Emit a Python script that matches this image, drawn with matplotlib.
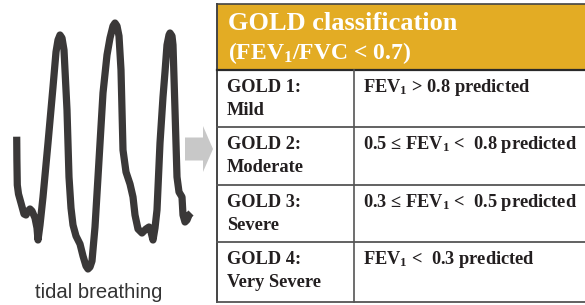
import matplotlib
matplotlib.use("Agg")
import matplotlib.pyplot as plt
import matplotlib.patches as mpatches

plt.rcParams['mathtext.fontset'] = 'custom'
plt.rcParams['mathtext.rm'] = 'Liberation Serif:bold'
plt.rcParams['mathtext.it'] = 'Liberation Serif:bold'
plt.rcParams['mathtext.bf'] = 'Liberation Serif:bold'

# tidal breathing trace (x, y in picture pixels, y grows downwards)
breath_t = [16.7, 16.9, 17.3, 18.5, 21, 24, 26, 28, 30, 32, 35, 37, 38,
            40, 43, 48, 53, 56, 58, 60, 62, 64,
            67, 69, 71, 73, 76, 80, 83, 86, 88, 90, 92,
            95, 98, 103, 107, 110, 113, 115, 117, 119,
            121, 122, 123, 126, 130, 133, 135, 138, 142, 146, 149, 151, 153,
            155, 157, 160, 163, 165, 167, 169, 170, 172, 173,
            175, 177, 179, 182, 183, 185, 187, 189, 191]
breath_y = [136.7, 160, 185, 194, 203, 214, 215, 211, 209, 211, 218, 228, 240,
            225, 197, 143, 87, 52, 40, 35, 38, 50,
            110, 177, 208, 225, 236, 244, 256, 266, 269, 267, 261,
            227, 177, 93, 55, 38, 26, 23, 26, 36,
            70, 110, 150, 172, 184, 197, 215, 229, 233, 229, 227, 232, 240,
            228, 210, 143, 97, 72, 45, 35, 33, 36, 45,
            110, 177, 192, 197, 215, 222, 220, 215, 213]

header_lines = ["GOLD classification", "(FEV$_1$/FVC < 0.7)"]
header_sizes = [19, 17]
stage_names = ["GOLD 1:\nMild", "GOLD 2:\nModerate", "GOLD 3:\nSevere", "GOLD 4:\nVery Severe"]
stage_criteria = ["FEV$_1$ > 0.8 predicted",
                  "0.5 \u2264 FEV$_1$ <  0.8 predicted",
                  "0.3 \u2264 FEV$_1$ <  0.5 predicted",
                  "FEV$_1$ <  0.3 predicted"]

W, H = 585, 305
fig = plt.figure(figsize=(W / 100, H / 100), dpi=100)
ax = fig.add_axes([0, 0, 1, 1])
ax.set_xlim(0, W)
ax.set_ylim(H, 0)
ax.axis('off')

# waveform
ax.plot(breath_t, breath_y, color='#3a3838', lw=5.2,
        solid_joinstyle='round', solid_capstyle='butt')
ax.text(99, 298, "tidal breathing", ha='center', va='baseline',
        fontsize=14.6, color='#333333', family='Liberation Sans')

# arrow
ax.add_patch(mpatches.FancyArrow(185, 149, 28, 0, width=23, head_width=46,
                                 head_length=10, length_includes_head=True,
                                 color='#c8c8c8', lw=0))

# table
tx0, tx1, tcol = 217, 585, 354
head_top, head_bot = 4, 70
row_edges = [70, 127, 185, 242, 302]
gold = '#e3ac24'
ax.add_patch(mpatches.Rectangle((tx0, head_top), tx1 - tx0, head_bot - head_top,
                                facecolor=gold, edgecolor='none'))
ax.plot([tx0, tx1], [head_top, head_top], color='#444444', lw=1.2)
ax.plot([tx0, tx0], [head_top, row_edges[-1]], color='#444444', lw=1.4)
ax.plot([tx0, tx1], [head_bot, head_bot], color='#2a2a2a', lw=1.6)
ax.plot([tcol, tcol], [row_edges[0], row_edges[-1]], color='#555555', lw=1.2)
for yb in row_edges[1:]:
    ax.plot([tx0, tx1], [yb, yb], color='#555555', lw=1.3)

for i, (line, fs) in enumerate(zip(header_lines, header_sizes)):
    ax.text(228, 30 + 29 * i, line, ha='left', va='baseline', fontsize=fs,
            color='white', family='Liberation Serif', fontweight='bold')

for i, (name, crit) in enumerate(zip(stage_names, stage_criteria)):
    top = row_edges[i]
    for j, part in enumerate(name.split("\n")):
        ax.text(227, top + 22 + 23 * j, part, ha='left', va='baseline',
                fontsize=13.2, color='#231f20', family='Liberation Serif',
                fontweight='bold')
    ax.text(363, top + 22, crit, ha='left', va='baseline', fontsize=13.2,
            color='#231f20', family='Liberation Serif', fontweight='bold')

fig.savefig("out.png", dpi=100)
